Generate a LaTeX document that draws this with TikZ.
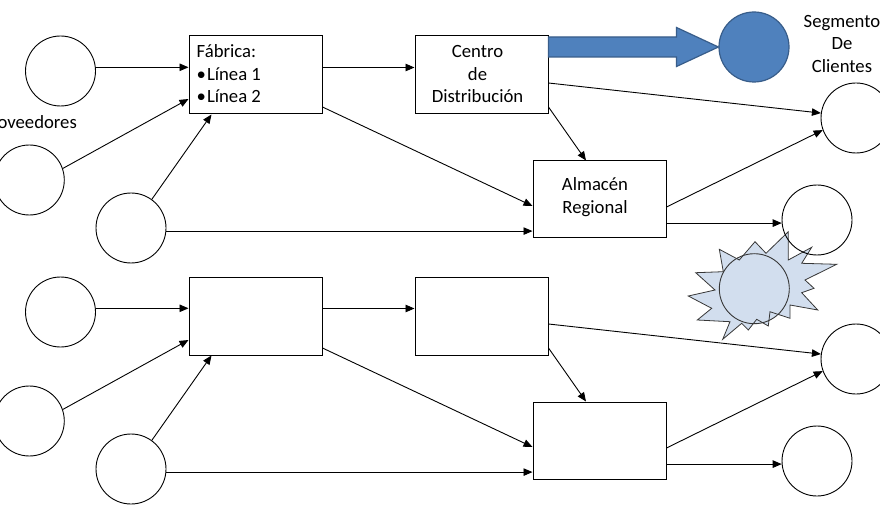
\documentclass[tikz,border=0pt]{standalone}
\usepackage{fontspec}
\setmainfont{Carlito}
\usetikzlibrary{arrows.meta,calc}
\definecolor{blueacc}{RGB}{79,129,189}
\definecolor{blueedge}{RGB}{56,93,138}
\definecolor{starfill}{RGB}{210,222,238}
\definecolor{staredge}{RGB}{55,55,55}
\begin{document}
\begin{tikzpicture}[x=1pt,y=-1pt,
  every node/.style={font=\fontsize{18.7}{22.4}\selectfont},
  box/.style={draw,line width=1pt,minimum width=133pt,minimum height=78pt,inner sep=0pt},
  circ/.style={draw,circle,line width=0.9pt,minimum size=70pt,inner sep=0pt},
  arr/.style={line width=0.9pt,-{Triangle[length=9pt,width=7.5pt]}},
  txt/.style={inner sep=0pt},
]
\useasboundingbox (0,0) rectangle (880,521);
\fill[white] (0,0) rectangle (880,521);

% starburst with its circle
\def\starpath{(688.3,296) -- (715,290) -- (695.7,272.7) -- (723.3,271.7) -- (719.3,249.3) -- (739.3,260) -- (755,241.7) -- (766,253.3) -- (788.3,231.7) -- (788.3,260) -- (811.7,247.3) -- (801.7,263.3) -- (836.7,264.3) -- (805,280) -- (814,288.3) -- (801.7,292.7) -- (817.7,310) -- (790,305) -- (790,318.3) -- (770,311.7) -- (768.3,326) -- (756.7,319.3) -- (748.3,330) -- (741.7,323.3) -- (722.7,339.3) -- (730,321.7) -- (697.3,320) -- (711.7,308.3) -- cycle}
\fill[starfill] \starpath;
\node[circ, fill=starfill, draw=staredge] (s0) at (754.3,288.7) {};
\draw[staredge, line width=0.8pt, line join=miter] \starpath;

\foreach \s/\sh in {t/0,b/241}{
  \node[circ] (a1\s) at (60.5,{71+\sh}) {};
  \node[circ] (a2\s) at (29.3,{180+\sh}) {};
  \node[circ] (a3\s) at (131,{228+\sh}) {};
  \node[box] (f\s) at (255.5,{75+\sh}) {};
  \node[box] (d\s) at (481.5,{75+\sh}) {};
  \node[box, minimum height=77pt] (w\s) at (599.5,{199.5+\sh}) {};
  \node[circ] (c1\s) at (856,{118+\sh}) {};
  \node[circ] (c2\s) at (817,{220+\sh}) {};
  \draw[arr] (a1\s.6) -- (a1\s.6 -| f\s.west);
  \draw[arr] (a2\s.19) -- ($(f\s.west)+(0,24)$);
  \draw[arr] (a3\s.54) -- ($(f\s.south west)+(23,0)$);
  \draw[arr] (a3\s.-5) -- (a3\s.-5 -| w\s.west);
  \coordinate (fo\s) at ($(f\s.east)+(0,-7.5)$);
  \draw[arr] (fo\s) -- (fo\s -| d\s.west);
  \draw[arr] ($(f\s.east)+(0,32)$) -- ($(w\s.west)+(0,6.5)$);
  \draw[arr] ($(d\s.east)+(0,8)$) -- (c1\s.172);
  \draw[arr] ($(d\s.east)+(0,32)$) -- ($(w\s.north)+(-13.5,0)$);
  \draw[arr] ($(w\s.east)+(0,7.5)$) -- (c1\s.200);
  \draw[arr] (c2\s.185 -| w\s.east) -- (c2\s.185);
}

% blue block arrow and filled circle
\node[circ, fill=blueacc, draw=blueedge, line width=1.2pt] (b0) at (754,47) {};
\coordinate (bs) at (dt.east |- b0.west);
\draw[fill=blueacc, draw=blueedge, line width=1.2pt, line join=miter]
  ($(bs)+(0,-10)$) -- ($(bs)+(128,-10)$) -- ($(bs)+(128,-19.5)$) -- (b0.west)
  -- ($(bs)+(128,19.5)$) -- ($(bs)+(128,10)$) -- ($(bs)+(0,10)$) -- cycle;

% texts (base anchor = baseline of the last line)
\node[txt, anchor=base west, align=left] (ftx) at ($(ft.north west)+(8,67.1)$) {Fábrica:\\•\kern1pt Línea 1\\•\kern1pt Línea 2};
\node[txt, anchor=base, align=center] (dtx) at ($(dt.north)+(-4,67.1)$) {Centro\\de\\Distribución};
\node[txt, anchor=base, align=center] (wtx) at ($(wt.north)+(-4.5,52.9)$) {Almacén\\Regional};
\node[txt, anchor=base, align=center] (seg) at (842,72.3) {Segmento\\De\\Clientes};
\node[txt, anchor=base east] (prov) at (77,128.3) {Proveedores};
\end{tikzpicture}
\end{document}
